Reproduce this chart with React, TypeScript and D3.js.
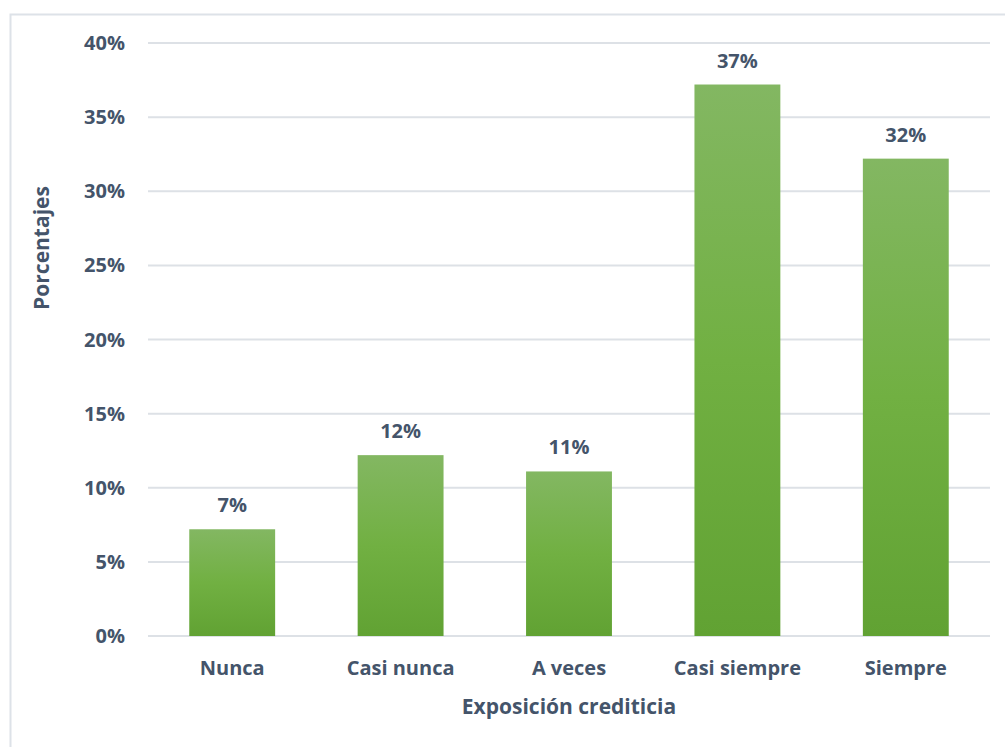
import React from "react";
import * as d3 from "d3";

const categories = ["Nunca", "Casi nunca", "A veces", "Casi siempre", "Siempre"];
const values = [7.2, 12.2, 11.1, 37.2, 32.2];
const yTicks = [0, 5, 10, 15, 20, 25, 30, 35, 40];

const W = 1005;
const H = 747;
const M = { left: 148, right: 15, top: 43, bottom: 111 };
const TEXT = "#44546A";
const FONT = "'Open Sans', sans-serif";

export default function App() {
  const x = d3
    .scaleBand<string>()
    .domain(categories)
    .range([M.left, W - M.right])
    .paddingInner(0.49)
    .paddingOuter(0.245);
  const y = d3.scaleLinear().domain([0, 40]).range([H - M.bottom, M.top]);

  return (
    <svg
      width={W}
      height={H}
      style={{ position: "absolute", left: 0, top: 0, background: "#fff" }}
      fontFamily={FONT}
    >
      <defs>
        <linearGradient id="barGrad" x1="0" y1="0" x2="0" y2="1">
          <stop offset="0%" stopColor="#83B762" />
          <stop offset="50%" stopColor="#71B042" />
          <stop offset="100%" stopColor="#61A233" />
        </linearGradient>
      </defs>
      <rect x={10.5} y={14.5} width={W + 20} height={H + 20} fill="none" stroke="#DDE2E8" strokeWidth={2} />
      {yTicks.map((t) => (
        <g key={t}>
          <line x1={M.left} x2={W - M.right} y1={y(t)} y2={y(t)} stroke="#DDE1E6" strokeWidth={2} />
          <text x={125} y={y(t)} dy="0.35em" textAnchor="end" fill={TEXT} fontSize={20} fontWeight={700}>
            {t}%
          </text>
        </g>
      ))}
      {categories.map((c, i) => (
        <g key={c}>
          <rect
            x={x(c)}
            y={y(values[i])}
            width={x.bandwidth()}
            height={y(0) - y(values[i])}
            fill="url(#barGrad)"
          />
          <text
            x={x(c)! + x.bandwidth() / 2}
            y={y(values[i]) - 17}
            textAnchor="middle"
            fill={TEXT}
            fontSize={20}
            fontWeight={700}
          >
            {Math.round(values[i])}%
          </text>
          <text
            x={x(c)! + x.bandwidth() / 2}
            y={675}
            textAnchor="middle"
            fill={TEXT}
            fontSize={20}
            fontWeight={700}
          >
            {c}
          </text>
        </g>
      ))}
      <text x={569} y={714} textAnchor="middle" fill={TEXT} fontSize={21} fontWeight={700}>
        Exposición crediticia
      </text>
      <text
        transform={`translate(49, 248) rotate(-90)`}
        textAnchor="middle"
        fill={TEXT}
        fontSize={21}
        fontWeight={700}
      >
        Porcentajes
      </text>
    </svg>
  );
}
